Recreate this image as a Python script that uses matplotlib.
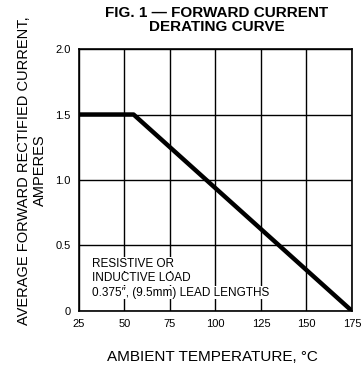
import matplotlib
matplotlib.use("Agg")
import matplotlib.pyplot as plt

# derating curve
temp_c = [25, 55, 175]
current_a = [1.5, 1.5, 0.0]

x_ticks = [25, 50, 75, 100, 125, 150, 175]
y_ticks = [0, 0.5, 1.0, 1.5, 2.0]
y_tick_labels = ["0", "0.5", "1.0", "1.5", "2.0"]
note_lines = ["RESISTIVE OR", "INDUCTIVE LOAD", "0.375\u2033, (9.5mm) LEAD LENGTHS"]

plt.rcParams["font.family"] = ["Liberation Sans", "DejaVu Sans"]

fig = plt.figure(figsize=(3.63, 3.70), dpi=100)
ax = fig.add_axes([0.2176, 0.1595, 0.752, 0.708])

ax.plot(temp_c, current_a, color="black", linewidth=3.2, solid_capstyle="round", zorder=3)

ax.set_xlim(25, 175)
ax.set_ylim(0, 2.0)
ax.set_xticks(x_ticks)
ax.set_yticks(y_ticks)
ax.set_yticklabels(y_tick_labels)
ax.tick_params(length=0, labelsize=8, pad=6)
ax.grid(True, color="black", linewidth=1.0)
for s in ax.spines.values():
    s.set_linewidth(1.2)

for i, line in enumerate(note_lines):
    ax.text(32, 0.36 - i * 0.11, line, fontsize=8.5, va="center", ha="left", zorder=2,
            bbox=dict(facecolor="white", edgecolor="none", pad=0.5))

fig.text(0.596, 0.985, "FIG. 1 \u2014 FORWARD CURRENT\nDERATING CURVE", ha="center", va="top",
         fontsize=11, fontweight="bold", linespacing=1.05)
fig.text(0.585, 0.015, "AMBIENT TEMPERATURE, \u00b0C", ha="center", va="bottom", fontsize=11)
fig.text(0.088, 0.54, "AVERAGE FORWARD RECTIFIED CURRENT,\nAMPERES", ha="center", va="center",
         rotation=90, fontsize=10.5, linespacing=1.1)

fig.savefig("out.png", dpi=100)
